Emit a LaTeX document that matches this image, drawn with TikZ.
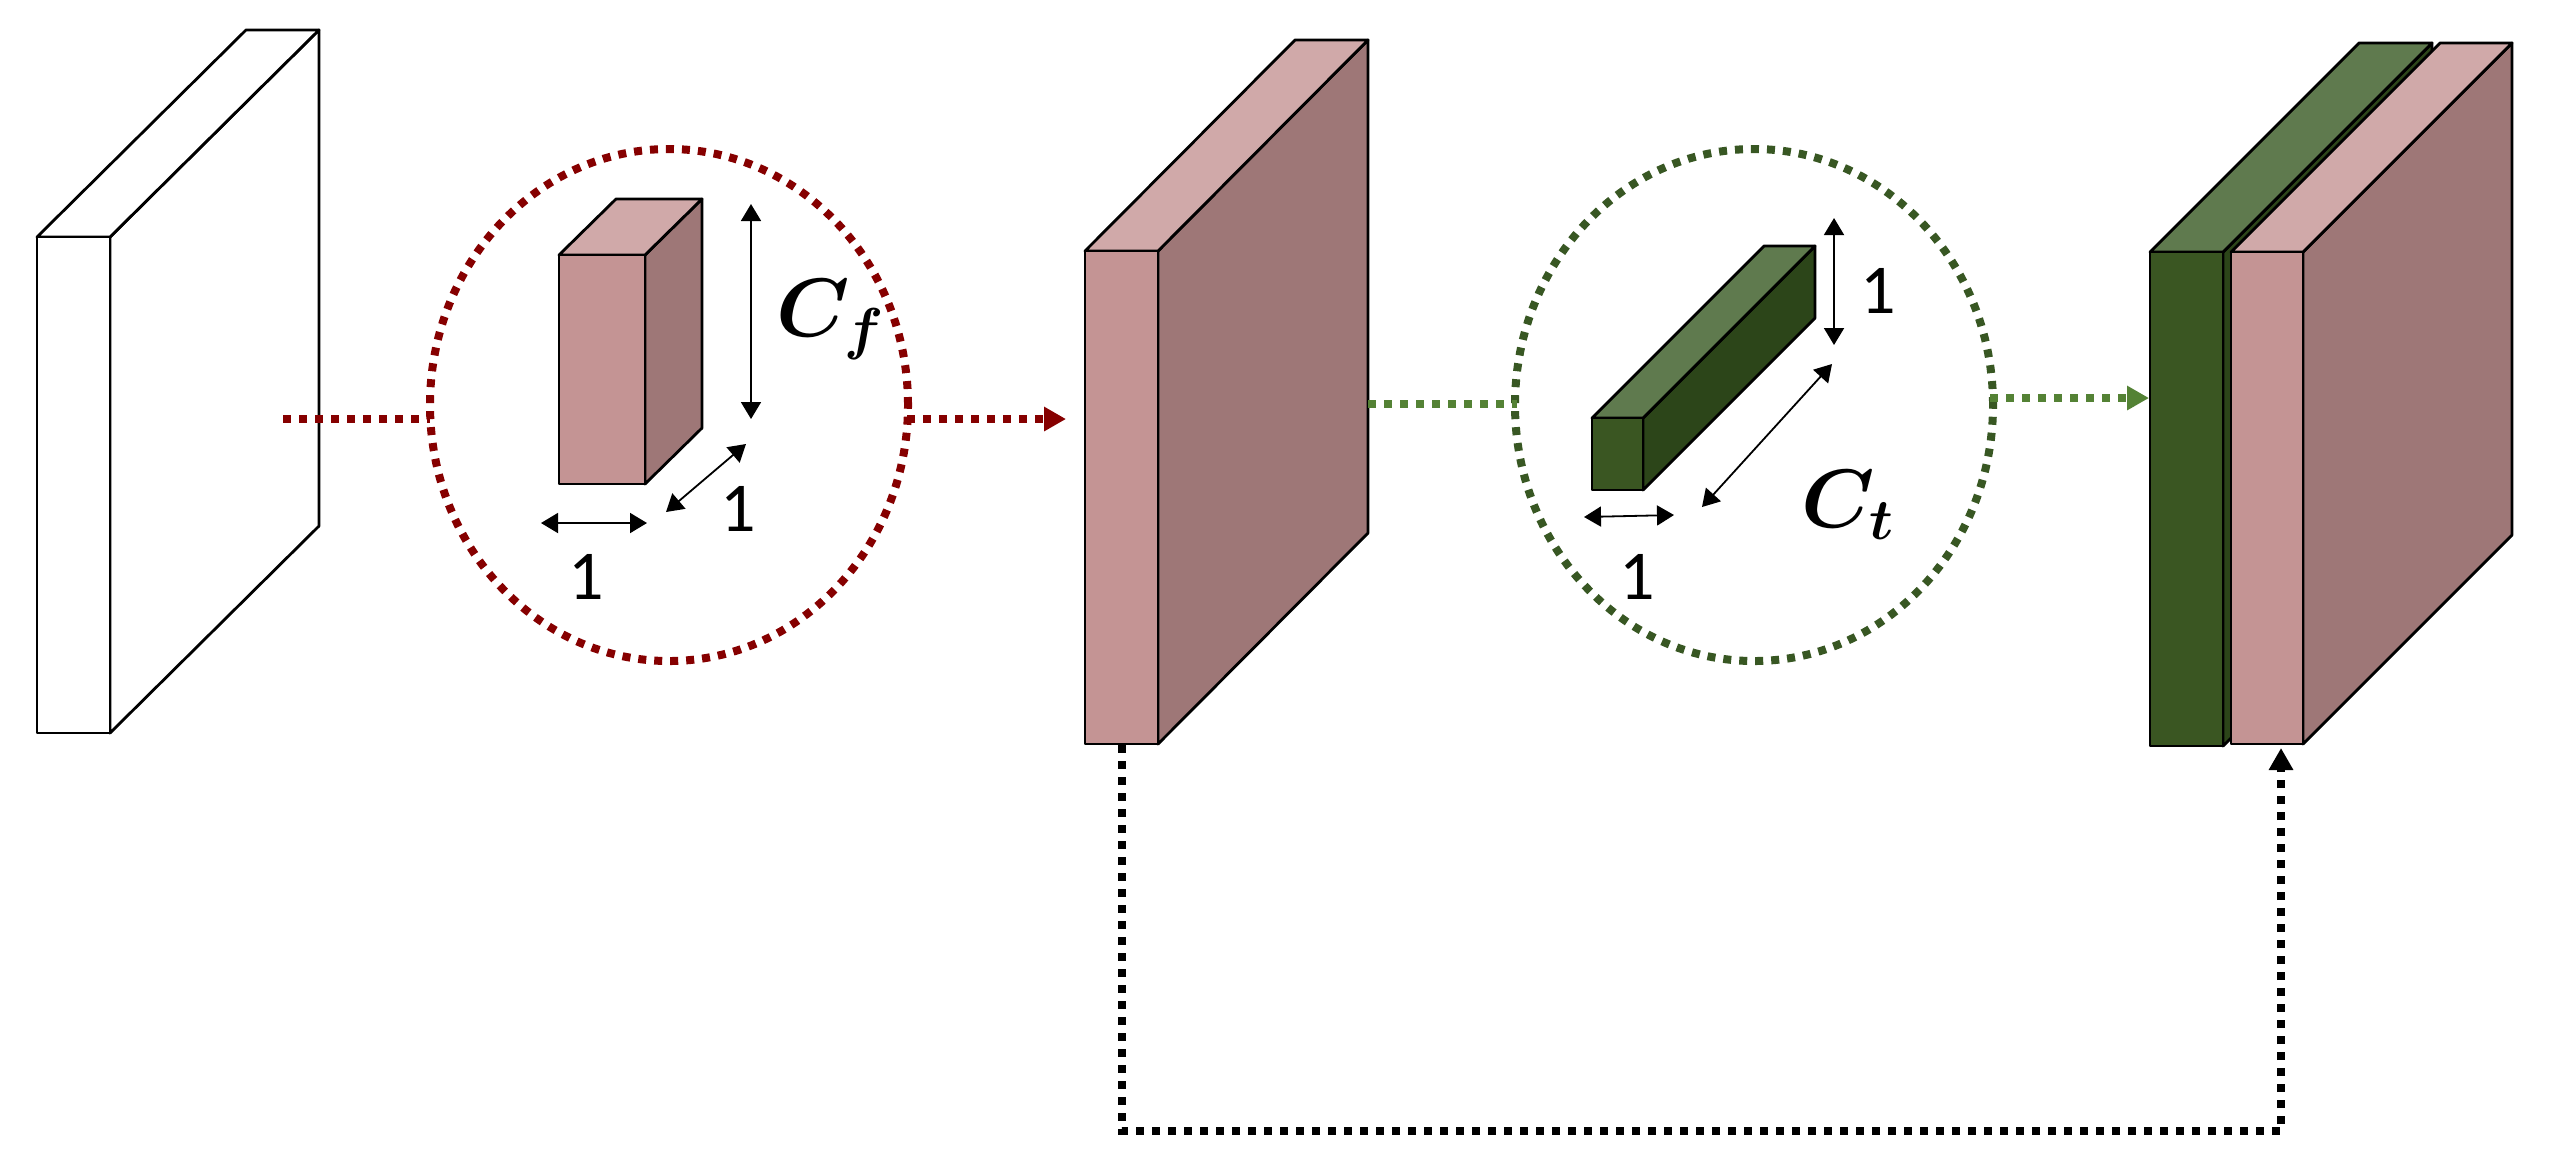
\documentclass[tikz,border=0pt]{standalone}
\usepackage{fontspec}
\usepackage{bm}
\setmainfont{Carlito}
\usetikzlibrary{arrows.meta,shapes.geometric}
\definecolor{pinkF}{HTML}{C49494}
\definecolor{pinkS}{HTML}{9E7777}
\definecolor{pinkT}{HTML}{D0A9A9}
\definecolor{grnF}{HTML}{3A5622}
\definecolor{grnS}{HTML}{2C4519}
\definecolor{grnT}{HTML}{5F7A4E}
\definecolor{redL}{HTML}{860000}
\definecolor{grnL}{HTML}{548235}
\definecolor{grnC}{HTML}{385723}
\newcommand\myslab[9]{%
  \filldraw[fill=#8, edge] (#2,#3) -- ++(#5,#6) -- ++(0,#4-#3) -- (#2,#4) -- cycle;
  \filldraw[fill=#9, edge] (#1,#3) -- ++(#5,#6) -- ++(#2-#1,0) -- (#2,#3) -- cycle;
  \filldraw[fill=#7, edge] (#1,#3) rectangle (#2,#4);
}
\begin{document}
\begin{tikzpicture}[x=0.25pt,y=-0.25pt,
  edge/.style={draw=black, line width=0.7pt, line join=round},
  dotline/.style={line width=2pt, dash pattern=on 2pt off 2pt, line cap=butt},
  bigtip/.style={-{Triangle[length=5.5pt,width=5.8pt]}},
  dimarr/.style={line width=0.45pt, >={Triangle[length=4.25pt,width=5pt]}, <->},
  ring/.style={ellipse, minimum width=119.5pt, minimum height=128pt, inner sep=0pt, line width=2pt, dash pattern=on 2pt off 2pt},
  one/.style={font=\fontsize{17.5}{20}\selectfont, inner sep=0pt, anchor=base},
  lab/.style={font=\fontsize{21}{25}\selectfont, inner sep=0pt, anchor=base west}]
\useasboundingbox (0,0) rectangle (2567,1161);

% slabs
\myslab{37}{110}{237}{733}{209}{-207}{white}{white}{white}
\myslab{1085}{1158}{251}{744}{210}{-211}{pinkF}{pinkS}{pinkT}
\myslab{2150}{2223}{252}{746}{209}{-209}{grnF}{grnS}{grnT}
\myslab{2231}{2303}{252}{744}{209}{-209}{pinkF}{pinkS}{pinkT}

% circles
\node[ring, draw=redL] (c1) at (669,405) {};
\node[ring, draw=grnC] (c2) at (1754,405) {};

% small boxes
\myslab{559}{645}{255}{484}{57}{-56}{pinkF}{pinkS}{pinkT}
\myslab{1592}{1643}{418}{490}{172}{-172}{grnF}{grnS}{grnT}

% dimension arrows
\coordinate (a1) at (751,204); \coordinate (a2) at (751,419);
\coordinate (b1) at (666,512); \coordinate (b2) at (746,444);
\coordinate (d1) at (541,523); \coordinate (d2) at (647,523);
\coordinate (e1) at (1834,218); \coordinate (e2) at (1834,345);
\coordinate (f1) at (1702,507); \coordinate (f2) at (1832,364);
\coordinate (g1) at (1584,517); \coordinate (g2) at (1674,515);
\draw[dimarr] (a1) -- (a2);
\draw[dimarr] (b1) -- (b2);
\draw[dimarr] (d1) -- (d2);
\draw[dimarr] (e1) -- (e2);
\draw[dimarr] (f1) -- (f2);
\draw[dimarr] (g1) -- (g2);

% labels
\node[lab] (cf) at (776,336) {$\bm{C}_{\bm{f}}$};
\node[one] (n1) at (738,531) {1};
\node[one] (n2) at (586,599) {1};
\node[lab] (ct) at (1801,527) {$\bm{C}_{\bm{t}}$};
\node[one] (n3) at (1878,313) {1};
\node[one] (n4) at (1637,599) {1};

% connectors
\coordinate (r0) at (283,419);
\coordinate (r1) at (430,419);
\coordinate (r2) at (907,419);
\coordinate (r3) at (1066,419);
\draw[dotline, redL] (r0) -- (r1);
\draw[dotline, redL, bigtip] (r2) -- (r3);

\coordinate (q0) at (1368,404);
\coordinate (q1) at (1517,404);
\coordinate (q2) at (1990,398);
\coordinate (q3) at (2149,398);
\draw[dotline, grnL] (q0) -- (q1);
\draw[dotline, grnL, bigtip] (q2) -- (q3);

\coordinate (k0) at (1122,745);
\coordinate (k1) at (1122,1131);
\coordinate (k2) at (2281,1131);
\coordinate (k3) at (2281,748);
\draw[dotline, black, bigtip] (k0) -- (k1) -- (k2) -- (k3);
\end{tikzpicture}
\end{document}
